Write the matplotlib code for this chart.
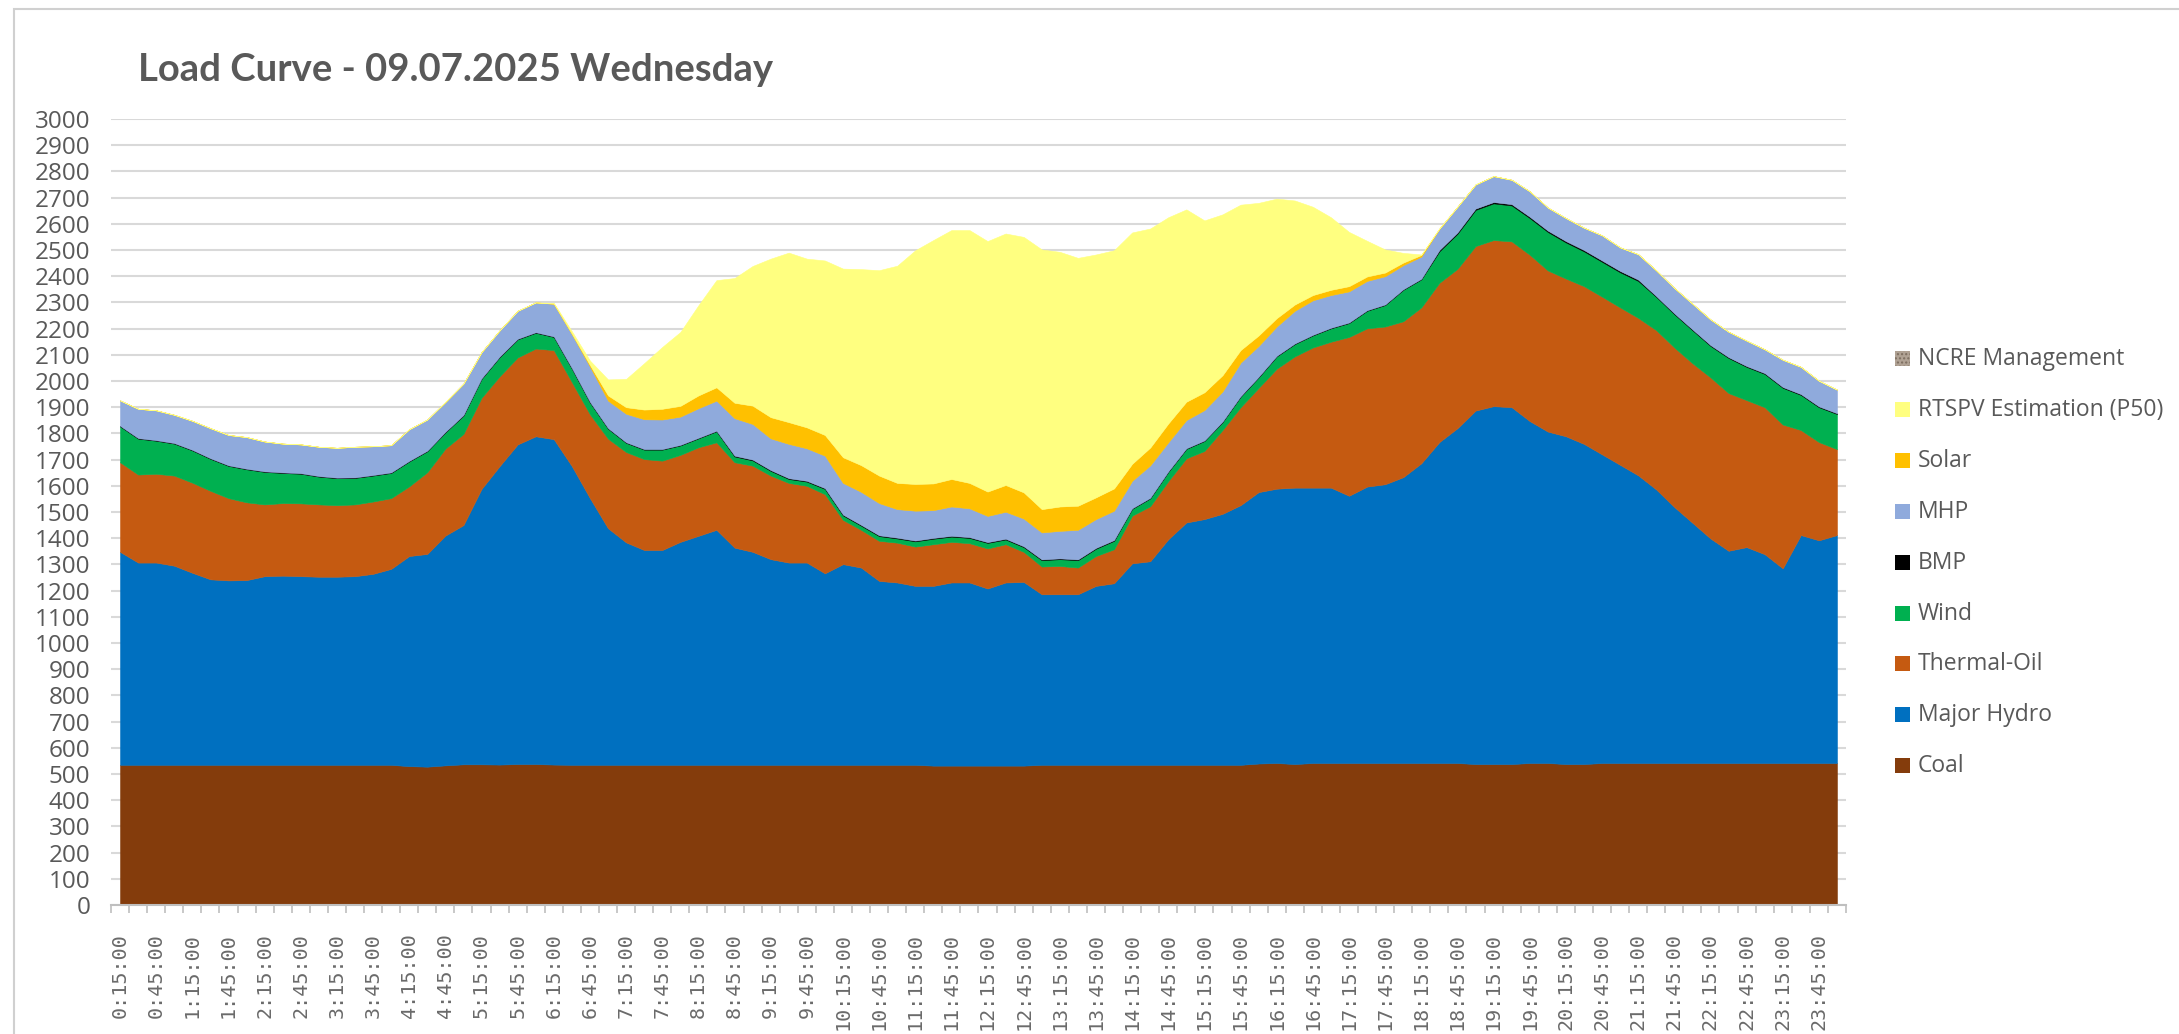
import numpy as np
import matplotlib
matplotlib.use("Agg")
import matplotlib.pyplot as plt
from matplotlib.patches import Rectangle

# 15-minute slots, 0:15 .. 24:00
times = [f"{(15 * (i + 1)) // 60}:{(15 * (i + 1)) % 60:02d}:00" for i in range(96)]

coal = [535, 535, 535, 535, 535, 535, 535, 535, 535, 535, 535, 535, 535, 535, 535, 535,
        530, 528, 533, 537, 537, 536, 538, 538, 536,
        535, 535, 535, 535, 535, 535, 535, 535, 535, 535, 535, 535, 535, 535, 535, 535, 535, 535, 535, 535,
        532, 532, 532, 532, 532, 532,
        535, 535, 535, 535, 535, 535, 535, 535, 535, 535, 535, 535,
        540, 542, 538,
        542, 542, 542, 542, 542, 542, 542, 542, 542,
        538, 538, 538, 542, 542, 538, 538,
        542, 542, 542, 542, 542, 542, 542, 542, 542, 542, 542, 542, 542, 542]

hydro = [813, 772, 772, 760, 733, 708, 704, 705, 720, 722,
         720, 718, 718, 720, 729, 748, 802, 812, 877, 913,
         1051, 1139, 1220, 1251, 1242, 1140, 1018, 903, 849, 820,
         820, 851, 874, 897, 829, 813, 785, 772, 772, 731,
         766, 753, 702, 696, 683, 686, 699, 699, 676, 699,
         701, 651, 651, 651, 683, 693, 769, 777, 861, 925,
         938, 958, 991, 1036, 1047, 1055, 1051, 1051, 1020, 1055,
         1064, 1091, 1144, 1225, 1278, 1349, 1366, 1362, 1305, 1265,
         1251, 1222, 1178, 1138, 1098, 1044, 977, 917, 857, 810,
         824, 797, 743, 870, 850, 870]

thermal = [342, 336, 339, 344, 344, 338, 314, 297, 274, 277,
           278, 276, 273, 274, 276, 270, 266, 312, 332, 348,
           348, 343, 332, 335, 340, 321, 320, 342, 345, 347,
           341, 332, 338, 334, 326, 329, 319, 304, 293, 302,
           169, 144, 153, 152, 150, 159, 155, 150, 153, 146,
           115, 106, 108, 102, 114, 130, 182, 210, 222, 245,
           260, 320, 374, 398, 458, 501, 535, 557, 606, 604,
           602, 595, 595, 608, 608, 628, 634, 633, 635, 615,
           602, 602, 602, 601, 601, 608, 609, 609, 615, 602,
           561, 561, 549, 401, 375, 328]

wind = [137, 137, 126, 122, 123, 122, 123, 126, 124, 115,
        113, 106, 103, 101, 99, 96, 95, 80, 62, 70,
        72, 73, 69, 60, 50, 51, 45, 38, 35, 36,
        42, 36, 34, 42, 22, 20, 18, 15, 16, 20,
        17, 16, 18, 16, 20, 21, 20, 20, 21, 18,
        18, 24, 26, 28, 28, 32, 26, 30, 35, 36,
        38, 30, 40, 40, 47, 47, 46, 51, 53, 67,
        82, 120, 107, 120, 134, 138, 140, 137, 140, 147,
        138, 133, 133, 134, 141, 127, 127, 126, 120, 134,
        127, 127, 140, 134, 133, 134]

bmp = [2] * 34 + [3] * 22 + [2] * 17 + [5] * 12 + [3] * 11

mhp = [97, 112, 114, 108, 111, 115, 116, 121, 114, 110,
       110, 112, 114, 117, 110, 104, 121, 119, 114, 120,
       100, 100, 107, 114, 125, 130, 135, 105, 109, 114,
       113, 108, 113, 115, 143, 136, 121, 131, 124, 124,
       121, 126, 123, 109, 114, 106, 112, 110, 100, 103,
       106, 103, 105, 113, 110, 112, 105, 124, 111, 108,
       116, 115, 128, 118, 112, 125, 132, 125, 119, 112,
       108, 92, 85, 80, 98, 92, 99, 93, 97, 88,
       88, 85, 96, 90, 97, 98, 97, 98, 98, 97,
       97, 91, 104, 104, 98, 90]

solar = [0] * 25 + [1, 6, 20, 25, 37,
                    41, 41, 49, 51, 59, 70, 81, 83, 80, 79,
                    98, 102, 105, 100, 102, 102, 105, 97, 93, 102,
                    100, 89, 93, 92, 83, 85, 65, 68, 72, 70,
                    68, 62, 48, 40, 32, 24, 20, 20, 20, 17,
                    14, 10, 6, 2] + [0] * 22

rtspv = [0] * 24 + [3, 10, 17, 61, 108, 177,
                    236, 282, 344, 409, 476, 533, 605, 647, 644, 666,
                    720, 748, 784, 829, 892, 929, 950, 965, 956, 960,
                    975, 991, 972, 946, 927, 909, 883, 836, 787, 734,
                    656, 614, 555, 506, 456, 397, 337, 277, 207, 136,
                    88, 37, 2] + [0] * 23

ncre = [0] * 96

series = ["Coal", "Major Hydro", "Thermal-Oil", "Wind", "BMP", "MHP", "Solar",
          "RTSPV Estimation (P50)", "NCRE Management"]
colors = ["#843c0c", "#0070c0", "#c55a11", "#00b050", "#000000", "#8faadc",
          "#ffc000", "#ffff80", "#b0a294"]

GREY = "#595959"

W, H = 2179, 1034
fig = plt.figure(figsize=(W / 100, H / 100), dpi=100)
ax = fig.add_axes([111 / W, (H - 905) / H, (1846 - 111) / W, (905 - 119) / H])

x = np.arange(len(times))
stack = ax.stackplot(x, coal, hydro, thermal, wind, bmp, mhp, solar, rtspv, ncre,
                     colors=colors, linewidth=0, antialiased=True)
for poly in stack[:-1]:
    poly.set_edgecolor("face")
    poly.set_linewidth(0.4)
stack[-1].set_visible(False)  # all-zero series, legend entry only

ax.set_xlim(-0.5, len(times) - 0.5)
ax.set_ylim(0, 3000)
ax.set_yticks(range(0, 3001, 100))
ax.yaxis.grid(True, color="#d9d9d9", linewidth=1.5)
ax.set_axisbelow(True)
for side in ["top", "right", "left"]:
    ax.spines[side].set_visible(False)
ax.spines["bottom"].set_color("#bfbfbf")
ax.spines["bottom"].set_linewidth(1.5)
ax.spines["bottom"].set_zorder(5)

ax.tick_params(axis="y", length=0, pad=15, labelsize=17.5, labelcolor=GREY)
for lab in ax.get_yticklabels():
    lab.set_fontfamily("Open Sans")

ax.set_xticks(x[::2])
ax.set_xticklabels(times[::2], rotation=90, fontsize=14.5, color="#6a6a6a",
                   family="DejaVu Sans Mono", va="top")
ax.set_xticks(np.arange(-0.5, len(times), 1), minor=True)
ax.tick_params(axis="x", which="major", length=0, pad=20)
ax.tick_params(axis="x", which="minor", length=6, width=1.2, color="#bfbfbf")

fig.text(138 / W, 1 - 70 / H, "Load Curve - 09.07.2025 Wednesday", fontsize=27.5,
         fontweight="bold", color=GREY, family="Lato", ha="left", va="center")

# legend, top entry first
for k, (name, col) in enumerate(zip(series[::-1], colors[::-1])):
    yc = 359 + k * 50.9
    hatch = "...." if name == "NCRE Management" else None
    fig.patches.append(Rectangle((1895 / W, 1 - (yc + 7) / H), 15 / W, 15 / H,
                                 transform=fig.transFigure, facecolor=col,
                                 edgecolor="#7d6e60" if hatch else col,
                                 hatch=hatch, linewidth=0))
    fig.text(1918 / W, 1 - yc / H, name, fontsize=16.5, color=GREY, family="Open Sans",
             ha="left", va="center")

# chart area border
fig.patches.append(Rectangle((14 / W, -0.05), 1.2, 1 - 9 / H + 0.05,
                             transform=fig.transFigure, fill=False,
                             edgecolor="#d0d0d0", linewidth=1.5))

fig.savefig("out.png", dpi=100)
